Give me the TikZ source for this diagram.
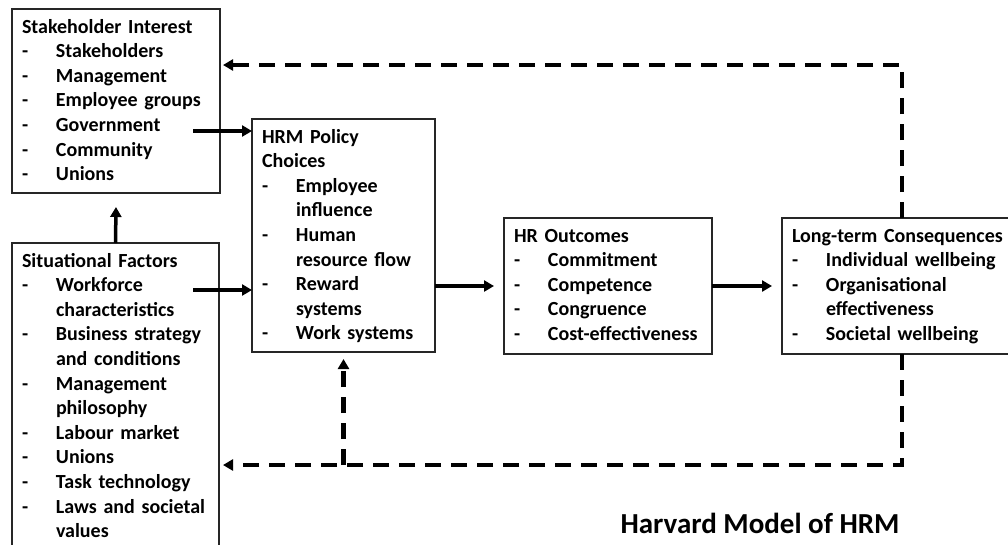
\documentclass[tikz,border=0pt]{standalone}
\usepackage{fontspec}
\setmainfont{Carlito}
\usetikzlibrary{arrows.meta}
\newcommand{\dashitem}[1]{\makebox[34pt][l]{-}#1}
\newcommand{\contline}[1]{\hspace*{34pt}#1}
\tikzset{
  box/.style={draw=black!85, line width=2.2pt, anchor=north west, outer sep=0pt,
    inner xsep=10pt, inner ysep=0pt, align=left, text height=24pt,
    font=\fontsize{20}{24.6}\selectfont\bfseries},
  arr/.style={line width=3.5pt, -{Triangle[length=10pt,width=11pt]}},
  fb/.style={line width=4.5pt, dash pattern=on 16pt off 10pt,
    -{Triangle[length=10pt,width=11pt]}},
}
\begin{document}
\begin{tikzpicture}[x=1pt,y=-1pt]
  \useasboundingbox (0,0) rectangle (1008,544);
  %Boxes
  \node[box, text width=188pt, text depth=160pt] (stake) at (12,9)
    {Stakeholder Interest\\ \dashitem{Stakeholders}\\ \dashitem{Management}\\
     \dashitem{Employee groups}\\ \dashitem{Government}\\ \dashitem{Community}\\
     \dashitem{Unions}};
  \node[box, text width=187pt, text depth=296pt] (sit) at (12,243)
    {Situational Factors\\ \dashitem{Workforce}\\ \contline{characteristics}\\
     \dashitem{Business strategy}\\ \contline{and conditions}\\
     \dashitem{Management}\\ \contline{philosophy}\\ \dashitem{Labour market}\\
     \dashitem{Unions}\\ \dashitem{Task technology}\\
     \dashitem{Laws and societal}\\ \contline{values}};
  \node[box, text width=163pt, text depth=209pt] (hrm) at (252,119)
    {HRM Policy\\ Choices\\ \dashitem{Employee}\\ \contline{influence}\\
     \dashitem{Human}\\ \contline{resource flow}\\ \dashitem{Reward}\\
     \contline{systems}\\ \dashitem{Work systems}};
  \node[box, text width=188pt, text depth=112pt] (hro) at (504,218)
    {HR Outcomes\\ \dashitem{Commitment}\\ \dashitem{Competence}\\
     \dashitem{Congruence}\\ \dashitem{Cost-effectiveness}};
  \node[box, text width=220pt, text depth=112pt] (lt) at (782,218)
    {Long-term Consequences\\ \dashitem{Individual wellbeing}\\
     \dashitem{Organisational}\\ \contline{effectiveness}\\
     \dashitem{Societal wellbeing}};
  %Title
  \node[anchor=base west, font=\fontsize{29}{34}\selectfont\bfseries] (title) at (617,533)
    {Harvard Model of HRM};
  %Solid arrows
  \coordinate (s1) at (193,131);
  \coordinate (s2) at (193,290);
  \draw[arr] (s1) -- (s1 -| hrm.west);
  \draw[arr] (s2) -- (s2 -| hrm.west);
  \draw[arr] (sit.north) -- ([yshift=-14pt]stake.south);
  \draw[arr] (hrm.east |- hro.west) -- ([xshift=-10pt]hro.west);
  \draw[arr] (hro.east) -- ([xshift=-10pt]lt.west);
  %Feedback (dashed)
  \coordinate (fbtop) at (223,65);
  \coordinate (fbbot) at (223,465);
  \draw[fb] (lt.north) |- (fbtop);
  \draw[fb] (lt.south) |- (fbbot);
  \draw[fb] (hrm.south |- fbbot) -- ([yshift=-7pt]hrm.south);
\end{tikzpicture}
\end{document}
